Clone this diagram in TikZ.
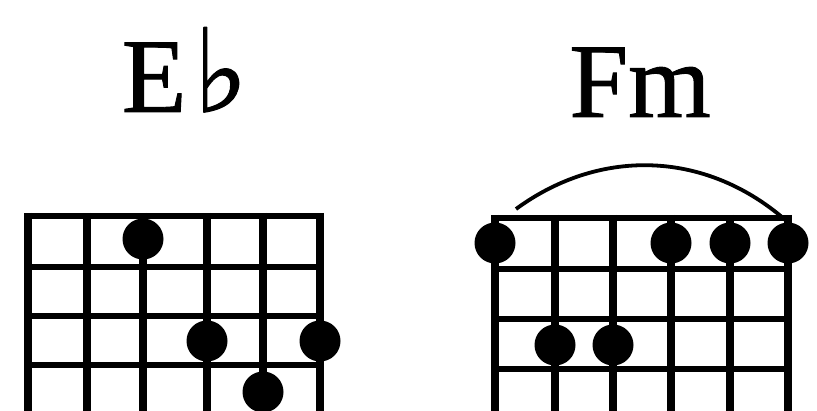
\documentclass[tikz,border=0pt]{standalone}
\usepackage{fontspec}
\setmainfont{Liberation Serif}
\newfontfamily\chordfont{Liberation Serif}[FakeBold=0.9]
\newfontfamily\symfont{DejaVu Sans}[FakeBold=0.9]
\usetikzlibrary{positioning}

\begin{document}
\begin{tikzpicture}[x=1pt,y=-1pt,
  gstring/.style={line width=7.5pt},
  fretline/.style={line width=6pt},
  fingerdot/.style={circle,fill,inner sep=0pt,minimum size=41pt},
  chordname/.style={anchor=base,font=\chordfont\fontsize{106}{110}\selectfont}]
  \useasboundingbox (0,0) rectangle (817,411);
  % E flat
  \node[chordname] (ebname) at (185,112)
    {E\hspace{7pt}{\symfont\fontsize{116}{120}\selectfont ♭}};
  \draw[fretline] (25,216) -- (323,216) (25,267) -- (323,267)
    (25,316) -- (323,316) (25,365) -- (323,365);
  \draw[gstring] (28,213) -- (28,415) (87,213) -- (87,415)
    (143,213) -- (143,415) (207,213) -- (207,415)
    (263,213) -- (263,415) (320,213) -- (320,415);
  \node[fingerdot] (eb3) at (143,239) {};
  \node[fingerdot] (eb4) at (207,341) {};
  \node[fingerdot] (eb6) at (320,341) {};
  \node[fingerdot] (eb5) at (263,392) {};
  % F minor
  \node[chordname] (fmname) at (640,117) {Fm};
  \draw[fretline] (492,218) -- (791,218) (492,269) -- (791,269)
    (492,319) -- (791,319) (492,369) -- (791,369);
  \draw[gstring] (495,215) -- (495,415) (555,215) -- (555,415)
    (613,215) -- (613,415) (671,215) -- (671,415)
    (730,215) -- (730,415) (788,215) -- (788,415);
  \node[fingerdot] (fm1) at (495,243) {};
  \node[fingerdot] (fm4) at (671,243) {};
  \node[fingerdot] (fm5) at (730,243) {};
  \node[fingerdot] (fm6) at (788,243) {};
  \node[fingerdot] (fm2) at (555,345) {};
  \node[fingerdot] (fm3) at (613,345) {};
  \coordinate (barstart) at (516,209);
  \draw[line width=3.8pt] (barstart) to[bend left=39] (fm6.north);
\end{tikzpicture}
\end{document}
